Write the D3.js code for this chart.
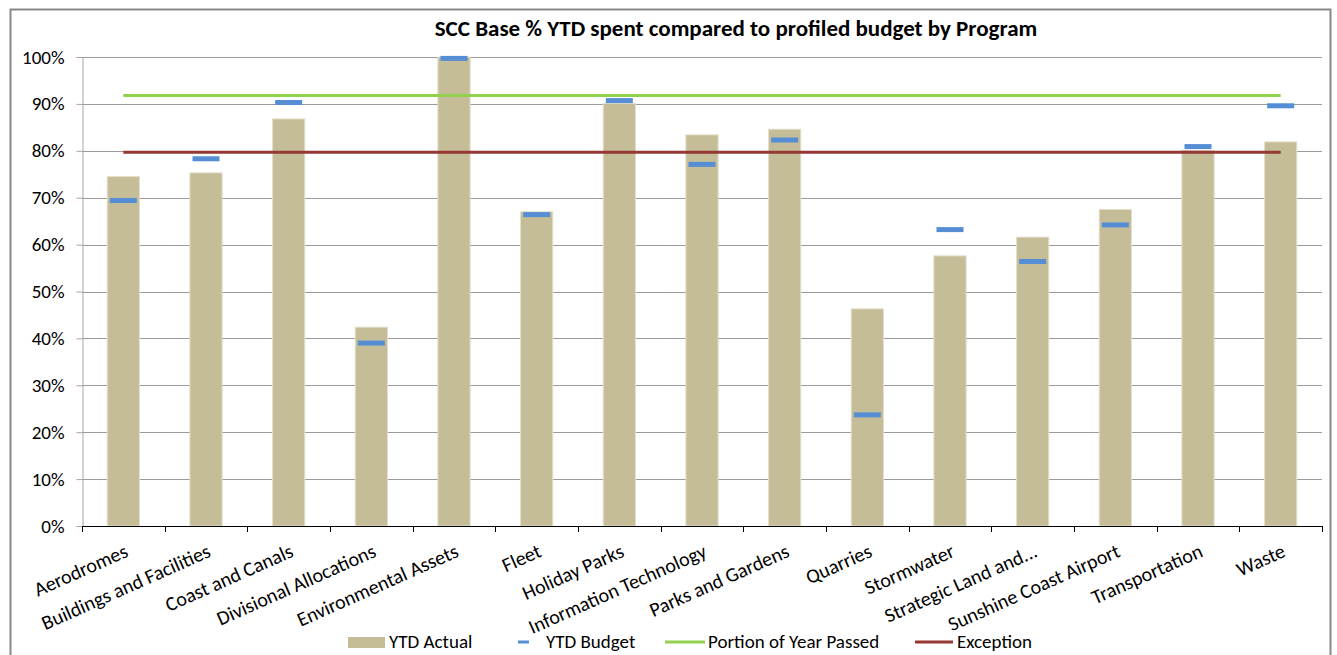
<!DOCTYPE html>
<html>
<head>
<meta charset="utf-8">
<script src="https://cdn.jsdelivr.net/npm/d3@7"></script>
<style>
  body { margin: 0; background: #fff; }
  text { font-family: Carlito, Lato, sans-serif; fill: #000; }
</style>
</head>
<body>
<div id="vis-container"></div>
<script>
// size of the page
var w = 1337;
var h = 655;

// data
var categories = ["Aerodromes", "Buildings and Facilities", "Coast and Canals", "Divisional Allocations",
    "Environmental Assets", "Fleet", "Holiday Parks", "Information Technology", "Parks and Gardens",
    "Quarries", "Stormwater", "Strategic Land and...", "Sunshine Coast Airport", "Transportation", "Waste"];
var ytdActual = [0.745, 0.753, 0.868, 0.424, 1.0, 0.670, 0.901, 0.834, 0.846, 0.463, 0.576, 0.616, 0.675, 0.801, 0.819];
var ytdBudget = [0.694, 0.783, 0.903, 0.390, 0.997, 0.664, 0.907, 0.771, 0.823, 0.237, 0.632, 0.564, 0.642, 0.809, 0.896];
var portionOfYear = 0.918;
var exception = 0.797;
var yTicks = [0, 0.1, 0.2, 0.3, 0.4, 0.5, 0.6, 0.7, 0.8, 0.9, 1.0];
var legendItems = ["YTD Actual", "YTD Budget", "Portion of Year Passed", "Exception"];

var barColor = "#c4bd97";
var budgetColor = "#558ed5";
var greenColor = "#92d050";
var redColor = "#953735";
var fontSize = "19px";

var svg = d3.select("#vis-container")
    .append("svg")
    .attr("width", w)
    .attr("height", h);

// chart border
svg.append("rect")
    .attr("x", 10.5)
    .attr("y", 9.5)
    .attr("width", 1320)
    .attr("height", 660)
    .attr("fill", "#fff")
    .attr("stroke", "#878787")
    .attr("stroke-width", 2);

// title
svg.append("text")
    .attr("x", 736)
    .attr("y", 36)
    .attr("text-anchor", "middle")
    .style("font-size", "23px")
    .style("font-weight", "bold")
    .text("SCC Base % YTD spent compared to profiled budget by Program");

// scales
var xScale = d3.scaleBand()
    .domain(categories)
    .range([82, 1322])
    .paddingInner(0.61)
    .paddingOuter(0.305);
var step = xScale.step();
var center = function (d) { return xScale(d) + xScale.bandwidth() / 2; };

var yScale = d3.scaleLinear()
    .domain([0, 1])
    .range([526, 57]);

// gridlines
svg.append("g")
    .selectAll("line")
    .data(yTicks.slice(1))
    .enter()
    .append("line")
    .attr("x1", 82)
    .attr("x2", 1322)
    .attr("y1", function (d) { return Math.round(yScale(d)) + 0.5; })
    .attr("y2", function (d) { return Math.round(yScale(d)) + 0.5; })
    .attr("stroke", "#9a9a9a")
    .attr("stroke-width", 1);

// y axis
var yAxis = d3.axisLeft(yScale)
    .tickValues(yTicks)
    .tickFormat(d3.format(".0%"))
    .tickSize(6)
    .tickPadding(12);

var yG = svg.append("g")
    .attr("transform", "translate(82.5,0)")
    .call(yAxis);
yG.select(".domain").attr("stroke", "#a6a6a6");
yG.selectAll(".tick line").attr("stroke", "#a6a6a6");
yG.selectAll(".tick text")
    .style("font-size", fontSize)
    .style("font-family", "Carlito, Lato, sans-serif")
    .attr("fill", "#000");

// bars
svg.selectAll(".bar")
    .data(categories)
    .enter()
    .append("rect")
    .attr("class", "bar")
    .attr("x", function (d) { return xScale(d); })
    .attr("width", xScale.bandwidth())
    .attr("y", function (d, i) { return yScale(ytdActual[i]); })
    .attr("height", function (d, i) { return yScale(0) - yScale(ytdActual[i]); })
    .attr("fill", barColor)
    .attr("stroke", "#e3dfcc")
    .attr("stroke-width", 1);

// x axis
svg.append("line")
    .attr("x1", 82)
    .attr("x2", 1322)
    .attr("y1", 526.5)
    .attr("y2", 526.5)
    .attr("stroke", "#000");

var boundaries = d3.range(categories.length + 1);
svg.append("g")
    .selectAll("line")
    .data(boundaries)
    .enter()
    .append("line")
    .attr("x1", function (i) { return Math.round(82 + i * step) + 0.5; })
    .attr("x2", function (i) { return Math.round(82 + i * step) + 0.5; })
    .attr("y1", 526)
    .attr("y2", 532)
    .attr("stroke", "#000");

svg.append("g")
    .selectAll("text")
    .data(categories)
    .enter()
    .append("text")
    .attr("text-anchor", "end")
    .attr("transform", function (d) { return "translate(" + (center(d) + 6) + ",556) rotate(-24)"; })
    .style("font-size", "20px")
    .text(function (d) { return d; });

// budget markers
svg.selectAll(".budget")
    .data(categories)
    .enter()
    .append("rect")
    .attr("class", "budget")
    .attr("x", function (d) { return center(d) - 13.5; })
    .attr("width", 27)
    .attr("y", function (d, i) { return yScale(ytdBudget[i]) - 2.5; })
    .attr("height", 5)
    .attr("fill", budgetColor);

// portion of year and exception lines
var line = d3.line()
    .x(function (d) { return center(d[0]); })
    .y(function (d) { return yScale(d[1]); });

svg.append("path")
    .datum(categories.map(function (c) { return [c, portionOfYear]; }))
    .attr("d", line)
    .attr("fill", "none")
    .attr("stroke", greenColor)
    .attr("stroke-width", 3);

svg.append("path")
    .datum(categories.map(function (c) { return [c, exception]; }))
    .attr("d", line)
    .attr("fill", "none")
    .attr("stroke", redColor)
    .attr("stroke-width", 3);

// legend
var ly = 642;
var legend = svg.append("g");
legend.append("rect")
    .attr("x", 348).attr("y", ly - 5).attr("width", 37).attr("height", 11)
    .attr("fill", barColor);
legend.append("text").attr("x", 389).attr("y", ly + 6)
    .style("font-size", fontSize).text(legendItems[0]);

legend.append("rect")
    .attr("x", 518).attr("y", ly - 1.5).attr("width", 11).attr("height", 3)
    .attr("fill", budgetColor);
legend.append("text").attr("x", 546).attr("y", ly + 6)
    .style("font-size", fontSize).text(legendItems[1]);

legend.append("line")
    .attr("x1", 665).attr("x2", 705).attr("y1", ly).attr("y2", ly)
    .attr("stroke", greenColor).attr("stroke-width", 3);
legend.append("text").attr("x", 708).attr("y", ly + 6)
    .style("font-size", fontSize).text(legendItems[2]);

legend.append("line")
    .attr("x1", 915).attr("x2", 953).attr("y1", ly).attr("y2", ly)
    .attr("stroke", redColor).attr("stroke-width", 3);
legend.append("text").attr("x", 957).attr("y", ly + 6)
    .style("font-size", fontSize).text(legendItems[3]);
</script>
</body>
</html>
